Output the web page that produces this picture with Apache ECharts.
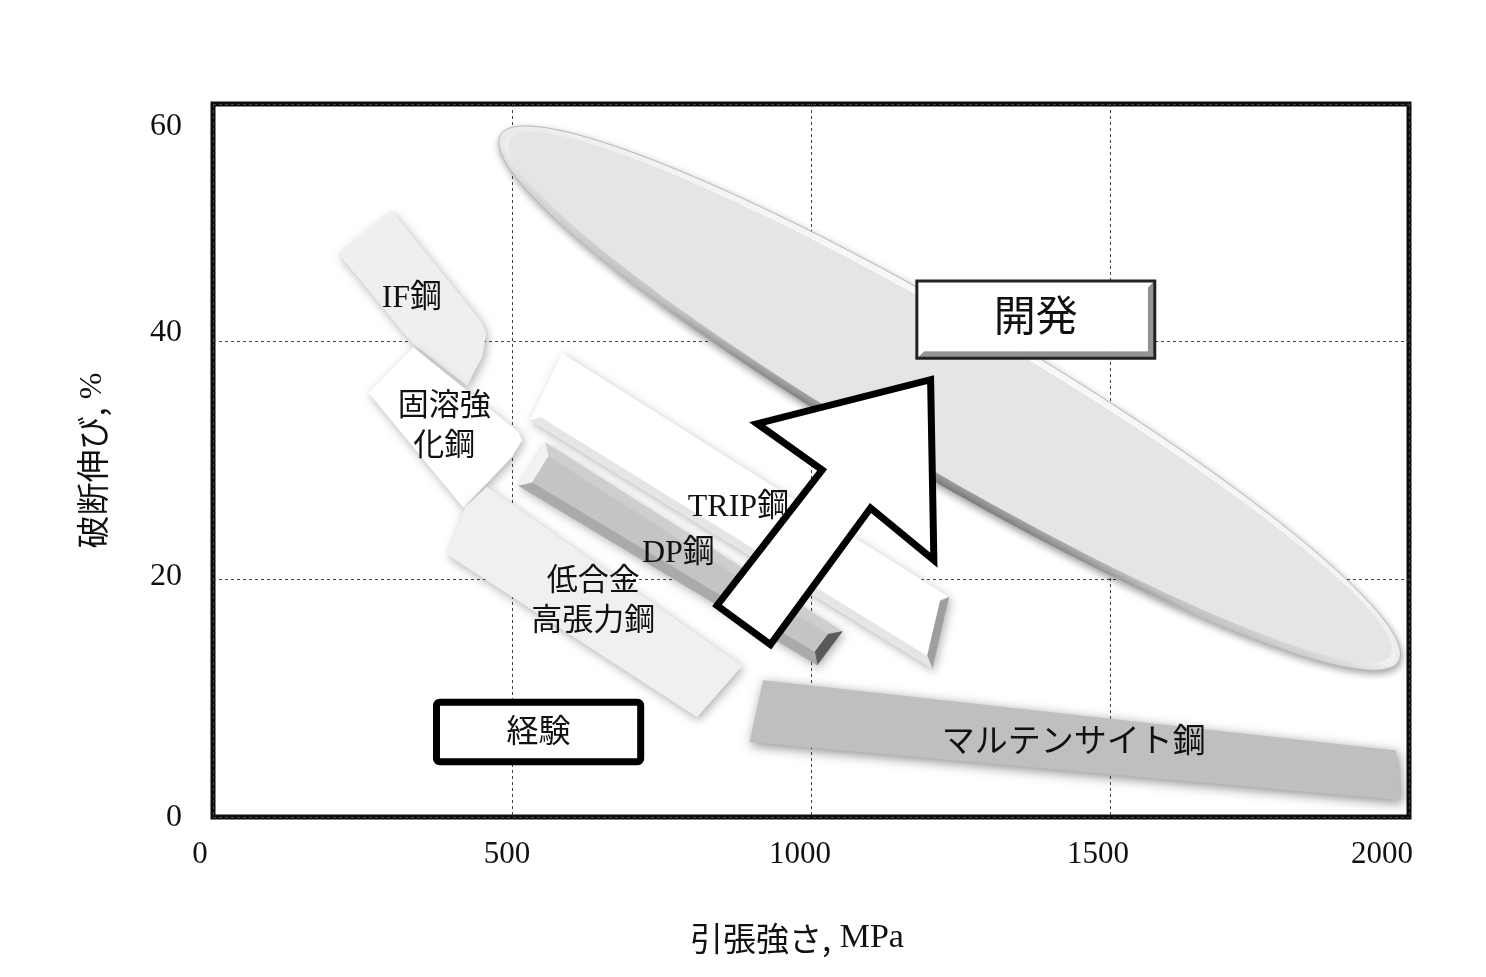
<!DOCTYPE html>
<html><head><meta charset="utf-8">
<script src="https://cdn.jsdelivr.net/npm/echarts@6/dist/echarts.min.js"></script>
<style>html,body{margin:0;padding:0;background:#fff}#c{width:1486px;height:977px}</style>
</head><body><div id="c"></div>
<script>
// ---- data (MPa, %) ----
const xTicks = [0, 500, 1000, 1500, 2000];
const yTicks = [0, 20, 40, 60];
const ifSteel = [[209.7,47.4],[299.1,51.0],[446.9,41.8],[456.9,40.7],[450.2,38.7],[424.6,36.3],[332.6,39.9]];
const solidSolution = [[259.9,35.7],[335.2,39.5],[511,32.4],[516.7,31.7],[499.9,30.3],[418.9,26.0]];
const hsla = [[391.1,22.1],[421.8,26.1],[458.1,27.8],[884.8,12.7],[809.5,8.4]];
const trip = [[583.6,39.0],[1230.6,18.5],[1202.8,12.5],[530.5,33.4]];
const dp = [[555.6,31.5],[1052.2,15.6],[1010.4,12.8],[510.5,27.9]];
const martensite = [[919.8,11.5],[1978.6,5.6],[1986.1,1.4],[897.4,6.3]];
const developEllipse = [[480.8,57.4],[1982.8,13.1]];
const arrowPts = [[843,17.8],[1018.7,29.2],[910,33.1],[1200,36.8],[1205.5,21.6],[1099.6,26.0],[932.2,14.5]];
const developBox = [[1177,45.1],[1574.9,38.6]];
const experienceBox = [[368.7,9.9],[720.2,4.4]];
const labelTexts = ['IF鋼', '固溶強\n化鋼', 'TRIP鋼', 'DP鋼', '低合金\n高張力鋼', 'マルテンサイト鋼'];
const labelPoints = [[332.6,43.6],[386.6,33.1],[878.7,26.0],[778.2,22.2],[636,18.4],[1439.3,6.5]];
const boxTexts = ['開発', '経験'];
const boxTextPoints = [[1375.7,42.2],[544.4,7.3]];

// ---- helpers ----
const SERIF = "'Liberation Serif','Noto Sans CJK JP'";
const SANS = "'Noto Sans CJK JP'";
function hexToRgb(h){h=h.replace('#','');return [parseInt(h.substr(0,2),16),parseInt(h.substr(2,2),16),parseInt(h.substr(4,2),16)];}
function mix(hex, t, target){const c=hexToRgb(hex);const r=c.map(v=>Math.round(v+(target-v)*t));return 'rgb('+r.join(',')+')';}
function signedArea(p){let s=0;for(let i=0;i<p.length;i++){const a=p[i],b=p[(i+1)%p.length];s+=a[0]*b[1]-b[0]*a[1];}return s;}
function inset(p, d){
  const n=p.length, sg=signedArea(p)>0?1:-1, lines=[];
  for(let i=0;i<n;i++){const a=p[i],b=p[(i+1)%n];const dx=b[0]-a[0],dy=b[1]-a[1];const L=Math.hypot(dx,dy);
    const nx=sg*(-dy)/L, ny=sg*dx/L; lines.push({px:a[0]+nx*d,py:a[1]+ny*d,rx:dx,ry:dy,nx:-nx,ny:-ny});}
  const out=[];
  for(let i=0;i<n;i++){const l1=lines[(i-1+n)%n],l2=lines[i];
    const cr=l1.rx*l2.ry-l1.ry*l2.rx; const qx=l2.px-l1.px,qy=l2.py-l1.py;
    const t=(qx*l2.ry-qy*l2.rx)/cr; out.push([l1.px+t*l1.rx,l1.py+t*l1.ry]);}
  return {pts:out, lines};
}
function bevel(px, depth, base, k1, k2){
  const ins=inset(px,depth); const children=[]; const Lx=-0.707,Ly=-0.707; const n=px.length;
  for(let i=0;i<n;i++){const j=(i+1)%n; const l=ins.lines[i]; const dot=l.nx*Lx+l.ny*Ly;
    const col = dot>=0 ? mix(base, dot*k1, 255) : mix(base, -dot*k2, 0);
    children.push({type:'polygon',shape:{points:[px[i],px[j],ins.pts[j],ins.pts[i]]},style:{fill:col,stroke:col,lineWidth:0.5}});}
  children.push({type:'polygon',shape:{points:ins.pts},style:{fill:base}});
  return children;
}
function ellipsePts(cx,cy,a,b,d,nr){const out=[];const N=180;for(let i=0;i<N;i++){const t=i/N*Math.PI*2;const ca=Math.cos(t)*a,sb=Math.sin(t)*b;out.push([cx+ca*d[0]+sb*nr[0],cy+ca*d[1]+sb*nr[1]]);}return out;}

let zc = 10;
function region(pts, build){
  return {type:'custom',coordinateSystem:'cartesian2d',data:pts,z:zc++,silent:true,animation:false,clip:false,
    renderItem:(params,api)=>{ if(params.dataIndex!==0) return null; const px=pts.map(p=>api.coord(p)); return build(px,api);} };
}
const softShadow = {shadowBlur:10, shadowColor:'rgba(0,0,0,0.30)', shadowOffsetX:2, shadowOffsetY:3};

const series = [];
// big development ellipse
series.push(region(developEllipse, px=>{
  const [p1,p2]=px; const cx=(p1[0]+p2[0])/2, cy=(p1[1]+p2[1])/2; const dx=p2[0]-p1[0], dy=p2[1]-p1[1];
  const a=Math.hypot(dx,dy)/2, b=a*0.154; const d=[dx/(2*a),dy/(2*a)], nr=[-d[1],d[0]];
  const grad={type:'linear',global:true,x:cx-b*nr[0],y:cy-b*nr[1],x2:cx+b*nr[0],y2:cy+b*nr[1],
    colorStops:[{offset:0,color:'#ffffff'},{offset:0.55,color:'#f0f0f0'},{offset:0.88,color:'#c4c4c4'},{offset:1,color:'#7a7a7a'}]};
  return {type:'group',children:[
    {type:'polygon',shape:{points:ellipsePts(cx,cy,a,b,d,nr)},style:{fill:grad,stroke:'#b8b8b8',lineWidth:1,shadowBlur:7,shadowColor:'rgba(0,0,0,0.35)',shadowOffsetX:1,shadowOffsetY:3}},
    {type:'polygon',shape:{points:ellipsePts(cx-1*nr[0],cy-1*nr[1],a-10,b-8,d,nr)},style:{fill:'#e5e5e5'}}
  ]};
}));
series.push(region(ifSteel, px=>({type:'polygon',shape:{points:px},style:Object.assign({fill:'#efefef'},softShadow)})));
series.push(region(solidSolution, px=>({type:'polygon',shape:{points:px},style:Object.assign({fill:'#ffffff'},softShadow)})));
series.push(region(hsla, px=>({type:'polygon',shape:{points:px},style:Object.assign({fill:'#f0f0f0'},softShadow)})));
series.push(region(trip, px=>({type:'group',children:[
  {type:'polygon',shape:{points:px},style:Object.assign({fill:'#ffffff'},softShadow)}
].concat(bevel(px,8,'#ffffff',0,0.45))})));
series.push(region(dp, px=>({type:'group',children:[
  {type:'polygon',shape:{points:px},style:Object.assign({fill:'#c4c4c4'},softShadow)}
].concat(bevel(px,10,'#c4c4c4',0.8,0.55))})));
series.push(region(martensite, px=>({type:'polygon',shape:{points:px},style:{fill:'#bfbfbf',shadowBlur:12,shadowColor:'rgba(0,0,0,0.45)',shadowOffsetX:2,shadowOffsetY:3}})));
// region labels
series.push({type:'custom',coordinateSystem:'cartesian2d',data:labelPoints,z:zc++,silent:true,animation:false,
  renderItem:(params,api)=>{const i=params.dataIndex; const p=api.coord(labelPoints[i]);
    const serif = i===0||i===2||i===3;
    const size = serif ? 32 : (i===5 ? 33 : 31);
    return {type:'text',x:p[0],y:p[1],style:{text:labelTexts[i],fill:'#111',align:'center',verticalAlign:'middle',
      font:size+'px '+(serif?SERIF:SANS),lineHeight:40}};}});
// arrow
series.push(region(arrowPts, px=>({type:'polygon',shape:{points:px},style:{fill:'#ffffff',stroke:'#000',lineWidth:7,lineJoin:'miter',miterLimit:20}})));
// development box
series.push(region(developBox, px=>{
  const x0=Math.min(px[0][0],px[1][0]),x1=Math.max(px[0][0],px[1][0]),y0=Math.min(px[0][1],px[1][1]),y1=Math.max(px[0][1],px[1][1]);
  const r=[[x0,y0],[x1,y0],[x1,y1],[x0,y1]];
  return {type:'group',children:bevel(r,7,'#ffffff',0,0.6).concat([
    {type:'polygon',shape:{points:r},style:{fill:'none',stroke:'#222',lineWidth:3}}])};
}));
// experience box
series.push(region(experienceBox, px=>{
  const x0=Math.min(px[0][0],px[1][0]),x1=Math.max(px[0][0],px[1][0]),y0=Math.min(px[0][1],px[1][1]),y1=Math.max(px[0][1],px[1][1]);
  return {type:'rect',shape:{x:x0+3,y:y0+3,width:x1-x0-6,height:y1-y0-6,r:3},style:{fill:'#fff',stroke:'#000',lineWidth:7}};
}));
// box texts
series.push({type:'custom',coordinateSystem:'cartesian2d',data:boxTextPoints,z:zc++,silent:true,animation:false,
  renderItem:(params,api)=>{const i=params.dataIndex; const p=api.coord(boxTextPoints[i]);
    return {type:'text',x:p[0],y:p[1],style:{text:boxTexts[i],fill:'#111',align:'center',verticalAlign:'middle',
      font:(i===0?'42px ':'32px ')+SANS}};}});

// label nudges (px) reproducing the reference's hand-placed tick labels
const xLabelPad = {0:[0,26,0,0],500:[0,10,0,0],1000:[0,22,0,0],1500:[0,24,0,0],2000:[0,54,10,0]};
const yLabelPad = {0:[2,0,0,0],20:[0,0,6,0],40:[0,0,18,0],60:[46,0,0,0]};
const xRich = {}, yRich = {};
xTicks.forEach(v=>{xRich['v'+v]={fontFamily:'Liberation Serif',fontSize:31,color:'#111',padding:xLabelPad[v]};});
yTicks.forEach(v=>{yRich['v'+v]={fontFamily:'Liberation Serif',fontSize:32,color:'#111',padding:yLabelPad[v]};});

const chart = echarts.init(document.getElementById('c'));
chart.setOption({
  backgroundColor:'#ffffff',
  animation:false,
  grid:{left:213,right:77,top:104,bottom:160,show:true,borderColor:'#0d0d0d',borderWidth:5,backgroundColor:'transparent'},
  xAxis:{type:'value',min:xTicks[0],max:xTicks[xTicks.length-1],interval:xTicks[1]-xTicks[0],
    axisLine:{show:false},axisTick:{show:false},
    axisLabel:{margin:22,formatter:v=>'{v'+v+'|'+v+'}',rich:xRich},
    splitLine:{show:true,lineStyle:{type:[3,3],color:'#444',width:1}},
    name:'{j|引張強さ,}{e| MPa}',nameLocation:'middle',nameGap:104,
    nameTextStyle:{padding:[0,28,0,0],rich:{j:{fontFamily:'Noto Sans CJK JP',fontSize:33,color:'#111'},e:{fontFamily:'Liberation Serif',fontSize:34,color:'#111'}}}},
  yAxis:{type:'value',min:yTicks[0],max:yTicks[yTicks.length-1],interval:yTicks[1]-yTicks[0],
    axisLine:{show:false},axisTick:{show:false},
    axisLabel:{margin:31,formatter:v=>'{v'+v+'|'+v+'}',rich:yRich},
    splitLine:{show:true,lineStyle:{type:[3,3],color:'#444',width:1}},
    name:'{j|破断伸び,}{e| %}',nameLocation:'middle',nameGap:104,nameRotate:90,
    nameTextStyle:{padding:[0,0,0,0],rich:{j:{fontFamily:'Noto Sans CJK JP',fontSize:33,color:'#111'},e:{fontFamily:'Liberation Serif',fontSize:32,color:'#111'}}}},
  series:series
});
</script></body></html>
